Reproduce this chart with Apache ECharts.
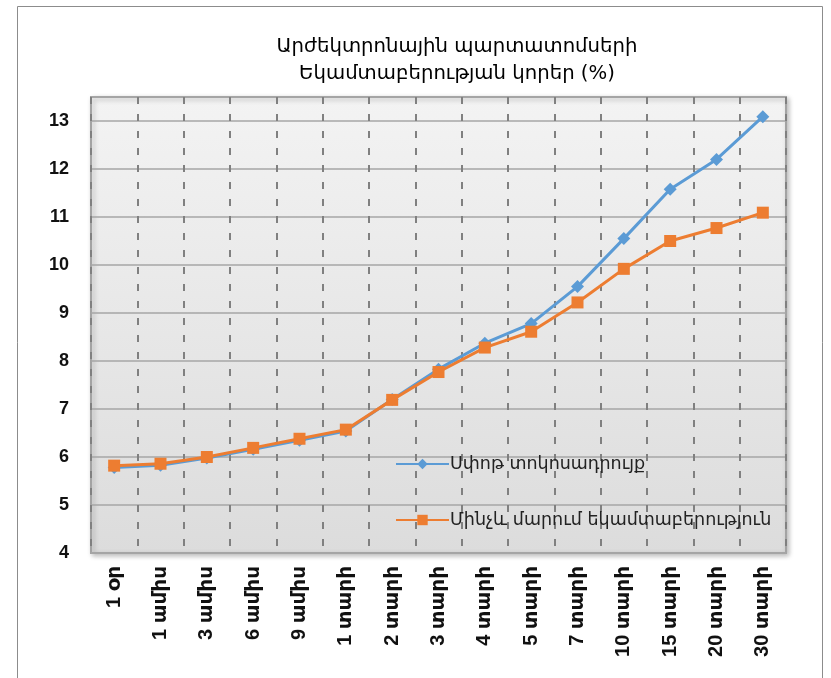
<!DOCTYPE html>
<html>
<head>
<meta charset="utf-8">
<script src="https://cdn.jsdelivr.net/npm/echarts@6/dist/echarts.min.js"></script>
<style>
  html, body { margin: 0; padding: 0; background: #fff; }
  #chart { width: 831px; height: 678px; }
</style>
</head>
<body>
<div id="chart"></div>
<script>
const categories = ['1 օր', '1 ամիս', '3 ամիս', '6 ամիս', '9 ամիս', '1 տարի', '2 տարի', '3 տարի',
  '4 տարի', '5 տարի', '7 տարի', '10 տարի', '15 տարի', '20 տարի', '30 տարի']
const spotRate = [5.78, 5.83, 5.98, 6.16, 6.35, 6.54, 7.2, 7.83, 8.37, 8.78, 9.55, 10.55, 11.58, 12.2, 13.09]
const ytm = [5.82, 5.86, 6.0, 6.19, 6.38, 6.57, 7.19, 7.77, 8.28, 8.61, 9.22, 9.92, 10.5, 10.77, 11.09]
const seriesNames = ['Սփոթ տոկոսադրույք', 'Մինչև մարում եկամտաբերություն']
const titleLines = ['Արժեկտրոնային պարտատոմսերի', 'Եկամտաբերության կորեր (%)']

const font = "'DejaVu Sans', 'Noto Sans', sans-serif"
const numFont = "'Liberation Sans', 'DejaVu Sans', sans-serif"
const chart = echarts.init(document.getElementById('chart'))
chart.setOption({
  animation: false,
  color: ['#5b9bd5', '#ed7d31'],
  title: {
    text: titleLines.join('\n'),
    left: 452,
    textAlign: 'center',
    top: 28,
    textStyle: { fontFamily: font, fontSize: 19.7, fontWeight: 'normal', color: '#000', lineHeight: 27 }
  },
  graphic: [{
    type: 'rect',
    shape: { x: 17.5, y: 6.5, width: 805, height: 680 },
    style: { fill: 'none', stroke: '#8c8c8c', lineWidth: 1 },
    silent: true
  }],
  legend: {
    orient: 'vertical',
    left: 390,
    top: 450,
    itemGap: 38,
    itemWidth: 53,
    itemHeight: 13,
    textStyle: { fontFamily: font, fontSize: 17.5, color: '#222', padding: [0, 0, 0, -4] },
    data: seriesNames
  },
  grid: {
    left: 91, right: 45, top: 97, bottom: 125,
    show: true,
    backgroundColor: new echarts.graphic.LinearGradient(0, 0, 0, 1, [
      { offset: 0, color: '#f3f3f3' },
      { offset: 1, color: '#dcdcdc' }
    ]),
    borderColor: '#a3a3a3',
    borderWidth: 2,
    shadowColor: 'rgba(0,0,0,0.25)',
    shadowBlur: 5,
    shadowOffsetX: 2,
    shadowOffsetY: 2
  },
  xAxis: {
    type: 'category',
    data: categories,
    boundaryGap: true,
    axisLine: { show: false },
    axisTick: { show: false },
    axisLabel: {
      rotate: 90,
      margin: 13,
      interval: 0,
      fontFamily: numFont,
      fontSize: 20,
      fontWeight: 'bold',
      color: '#111'
    },
    splitLine: {
      show: true,
      interval: 0,
      lineStyle: { color: '#808080', width: 2, type: [7, 10] }
    }
  },
  yAxis: {
    type: 'value',
    min: 4,
    max: 13.5,
    interval: 1,
    axisLine: { show: false },
    axisTick: { show: false },
    axisLabel: {
      margin: 22,
      fontFamily: numFont,
      fontSize: 18,
      fontWeight: 'bold',
      color: '#111',
      formatter: v => (Number.isInteger(v) ? String(v) : '')
    },
    splitLine: { lineStyle: { color: '#a6a6a6', width: 1.5 } }
  },
  series: [
    {
      name: seriesNames[0],
      type: 'line',
      data: spotRate,
      symbol: 'diamond',
      symbolSize: 13,
      lineStyle: { width: 3 },
      z: 3
    },
    {
      name: seriesNames[1],
      type: 'line',
      data: ytm,
      symbol: 'rect',
      symbolSize: 12,
      lineStyle: { width: 3 },
      z: 4
    }
  ]
})
</script>
</body>
</html>
